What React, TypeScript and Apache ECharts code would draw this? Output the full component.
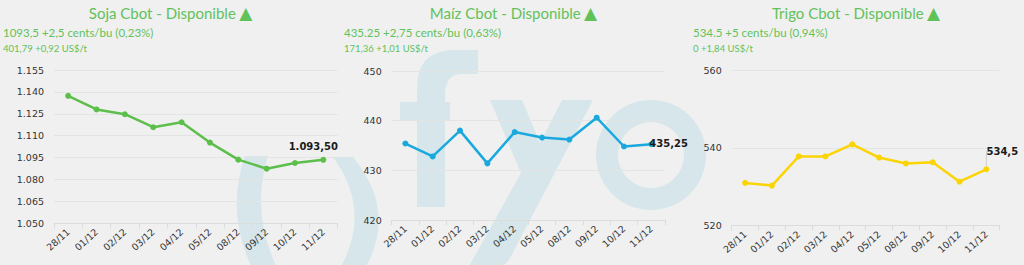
import React, { useEffect, useRef } from "react";
import * as echarts from "echarts";

const categories = ["28/11", "01/12", "02/12", "03/12", "04/12", "05/12", "08/12", "09/12", "10/12", "11/12"];
const sojaValues = [1137.3, 1128.0, 1124.7, 1115.8, 1119.2, 1105.3, 1093.6, 1087.4, 1091.3, 1093.5];
const maizValues = [435.4, 432.8, 438.0, 431.4, 437.7, 436.6, 436.2, 440.6, 434.8, 435.25];
const trigoValues = [531.0, 530.3, 537.8, 537.8, 540.9, 537.5, 536.0, 536.3, 531.3, 534.5];

const titles = ["Soja Cbot - Disponible", "Maíz Cbot - Disponible", "Trigo Cbot - Disponible"];
const subtitles1 = ["1093,5 +2,5 cents/bu (0,23%)", "435.25 +2,75 cents/bu (0,63%)", "534.5 +5 cents/bu (0,94%)"];
const subtitles2 = ["401,79 +0,92 US$/t", "171,36 +1,01 US$/t", "0 +1,84 US$/t"];

const yMins = [1050, 420, 520];
const yMaxs = [1155, 450, 560];
const yIntervals = [15, 10, 20];
const labelDecimals = [2, 2, 1];

const GREEN = "#5dbf4b";
const BLUE = "#1aa9df";
const YELLOW = "#fbd405";
const TITLE_GREEN = "#62c25a";
const WM = "#d6e6eb";

function fmtNum(v: number, dec: number) {
  const fixed = v.toFixed(dec);
  const [ip, dp] = fixed.split(".");
  const withSep = ip.replace(/\B(?=(\d{3})+(?!\d))/g, ".");
  return dp ? withSep + "," + dp : withSep;
}

let registered = false;
function registerShapes() {
  if (registered) return;
  registered = true;
  echarts.graphic.registerShape(
    "wmOpen",
    echarts.graphic.extendPath("M245 156 Q225 212 253 270 L278 270 Q250 212 268 156 Z", {})
  );
  echarts.graphic.registerShape(
    "wmClose",
    echarts.graphic.extendPath("M333 157 L353 157 Q398 212 364 270 L339 270 Q373 212 333 157 Z", {})
  );
  echarts.graphic.registerShape(
    "wmF",
    echarts.graphic.extendPath(
      "M417 207 L417 88 Q417 50 455 50 L478 50 L478 74 L462 74 Q445 74 445 95 L445 207 Z M400 102 L450 102 L450 121 L400 121 Z",
      {}
    )
  );
  echarts.graphic.registerShape(
    "wmY",
    echarts.graphic.extendPath(
      "M490 100 L522 100 L540 143 L562 100 L593 100 L510 258 Q505 268 490 268 L468 268 L521 173 Z",
      {}
    )
  );
}

export default function App() {
  const ref = useRef<HTMLDivElement>(null);
  useEffect(() => {
    if (!ref.current) return;
    registerShapes();
    const chart = echarts.init(ref.current, null, { renderer: "svg" });
    const grids = [
      { left: 54, top: 70, width: 283.5, height: 153.3 },
      { left: 391.7, top: 71, width: 273.3, height: 149 },
      { left: 731.7, top: 70, width: 268, height: 155.7 },
    ];
    const colors = [GREEN, BLUE, YELLOW];
    const values = [sojaValues, maizValues, trigoValues];
    const centers = [170.5, 513.5, 856];
    const subX = [3, 344, 693];

    const lastLabels: any[] = [
      { show: true, position: "top", offset: [-10, 0] },
      { show: true, position: "right", distance: 0, offset: [-5, -1] },
      { show: true, position: "top" },
    ];

    const series = values.map((vals, i) => ({
      type: "line",
      xAxisIndex: i,
      yAxisIndex: i,
      symbol: "circle",
      symbolSize: 6,
      z: 3,
      lineStyle: { color: colors[i], width: 2.5 },
      itemStyle: { color: colors[i] },
      label: {
        show: false,
        fontFamily: "DejaVu Sans",
        fontSize: 10,
        fontWeight: "bold",
        color: "#1a1a1a",
        formatter: (p: any) => fmtNum(p.value, labelDecimals[i]),
      },
      labelLine: i === 2 ? { show: true, lineStyle: { color: "#cfcfcf", width: 1 } } : { show: false },
      labelLayout: i === 2 ? { dx: 16, dy: -5 } : undefined,
      data: vals.map((v, j) => (j === vals.length - 1 ? { value: v, label: lastLabels[i] } : v)),
    }));

    const wm: any[] = [
      { type: "wmOpen", x: 0, y: 0, z: -10, silent: true, shape: {}, style: { fill: WM } },
      { type: "wmClose", x: 0, y: 0, z: -10, silent: true, shape: {}, style: { fill: WM } },
      { type: "wmF", x: 0, y: 0, z: -10, silent: true, shape: {}, style: { fill: WM } },
      { type: "wmY", x: 0, y: 0, z: -10, silent: true, shape: {}, style: { fill: WM } },
      { type: "ring", z: -10, silent: true, shape: { cx: 651, cy: 155, r: 55, r0: 33 }, style: { fill: WM } },
    ];
    const texts: any[] = [];
    for (let i = 0; i < 3; i++) {
      texts.push({
        type: "text",
        x: centers[i],
        y: 13,
        style: {
          text: "{a|" + titles[i] + "} {b|▲}",
          rich: {
            a: { fontSize: 15, fontFamily: "Lato", fill: TITLE_GREEN, color: TITLE_GREEN },
            b: { fontSize: 17, fontFamily: "DejaVu Sans", fill: TITLE_GREEN, color: TITLE_GREEN },
          },
          fill: TITLE_GREEN,
          textAlign: "center",
          textVerticalAlign: "middle",
          align: "center",
          verticalAlign: "middle",
        },
      });
      texts.push({
        type: "text",
        x: subX[i],
        y: 32,
        style: {
          text: subtitles1[i],
          fill: TITLE_GREEN,
          font: "11.5px Lato",
          textAlign: "left",
          textVerticalAlign: "middle",
          align: "left",
          verticalAlign: "middle",
        },
      });
      texts.push({
        type: "text",
        x: subX[i],
        y: 48,
        style: {
          text: subtitles2[i],
          fill: TITLE_GREEN,
          font: "9.5px Lato",
          textAlign: "left",
          textVerticalAlign: "middle",
          align: "left",
          verticalAlign: "middle",
        },
      });
    }

    chart.setOption({
      animation: false,
      backgroundColor: "#f0f0f0",
      graphic: { elements: [...wm, ...texts] },
      grid: grids,
      xAxis: grids.map((_, i) => ({
        type: "category",
        gridIndex: i,
        data: categories,
        boundaryGap: true,
        axisLine: { show: true, lineStyle: { color: "#dcdcdc", width: 1 } },
        axisTick: { show: true, length: 5, lineStyle: { color: "#dcdcdc" } },
        axisLabel: {
          rotate: 42,
          interval: 0,
          fontFamily: "DejaVu Sans",
          fontSize: 9.5,
          color: "#333",
          margin: 7,
        },
        splitLine: { show: false },
      })),
      yAxis: grids.map((_, i) => ({
        type: "value",
        gridIndex: i,
        min: yMins[i],
        max: yMaxs[i],
        interval: yIntervals[i],
        axisLine: { show: false },
        axisTick: { show: false },
        axisLabel: {
          fontFamily: "DejaVu Sans",
          fontSize: 9.5,
          color: "#333",
          margin: 10,
          formatter: (v: number) => (i === 0 ? fmtNum(v / 1000, 3).replace(",", ".") : String(v)),
        },
        splitLine: { show: true, lineStyle: { color: "#e4e4e4", width: 1 } },
      })),
      series,
    });
    return () => chart.dispose();
  }, []);
  return (
    <div
      ref={ref}
      style={{ position: "fixed", left: 0, top: 0, width: 1024, height: 265, background: "#f0f0f0" }}
    />
  );
}
